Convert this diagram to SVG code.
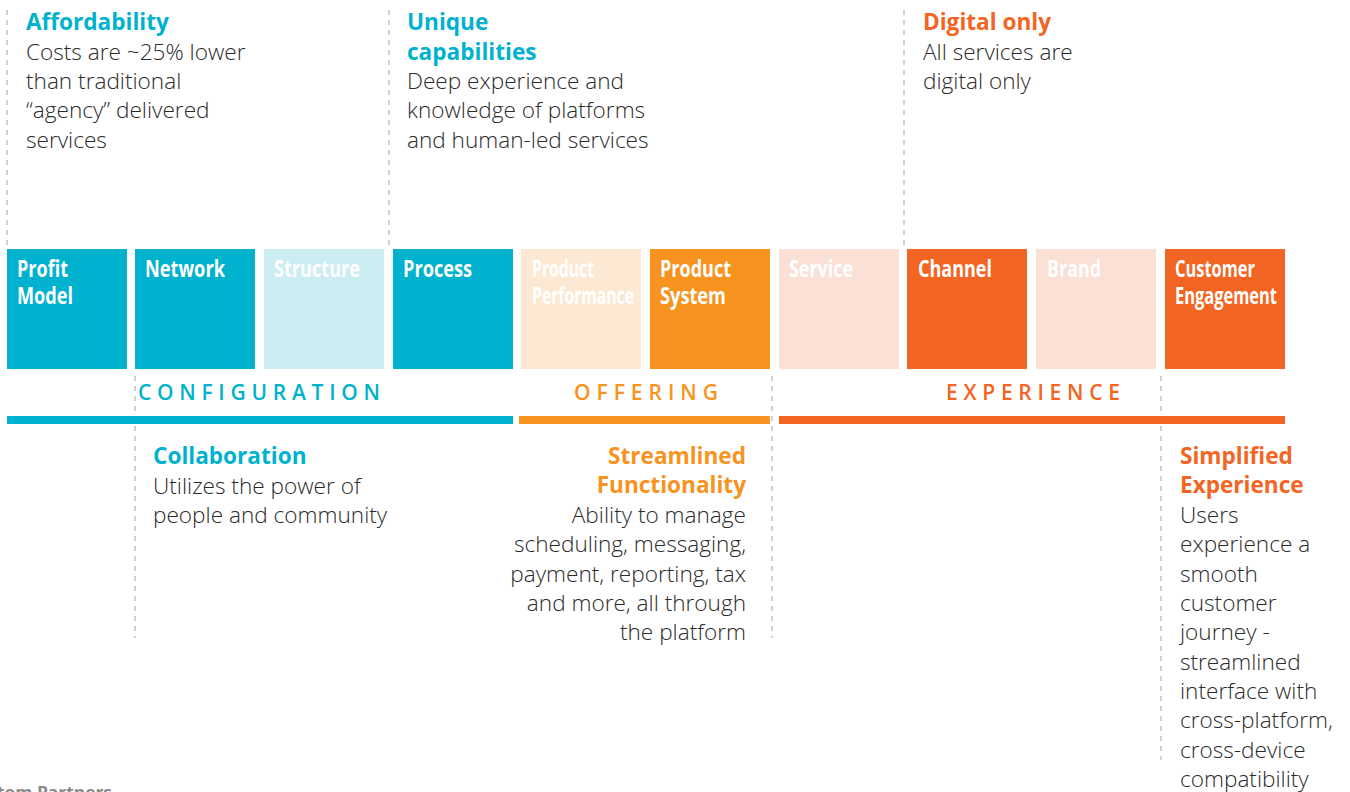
<svg xmlns="http://www.w3.org/2000/svg" width="1350" height="792" viewBox="0 0 1350 792">
<style>
.bg{fill:#ffffff}
.dash{stroke:#b3b3b3;stroke-width:1.2;stroke-dasharray:5 5;fill:none}
.lbl{font-family:"Open Sans","Liberation Sans",sans-serif;font-weight:700;font-size:23px;fill:#ffffff}
.h{font-family:"Open Sans","Liberation Sans",sans-serif;font-weight:700;font-size:22.6px}
.b{font-family:"Open Sans","Liberation Sans",sans-serif;font-weight:300;font-size:22.6px;fill:#2b2b2b}
.sec{font-family:"Open Sans","Liberation Sans",sans-serif;font-weight:600;font-size:21px}
.teal{fill:#00B2CD}
.lteal{fill:#CCEEF2}
.orange{fill:#F7931E}
.lorange{fill:#FDE9D3}
.red{fill:#F26522}
.lred{fill:#FBE0D5}
.src{font-family:"Open Sans","Liberation Sans",sans-serif;font-weight:700;font-size:16px;fill:#8a8a8a}
</style>
<rect class="bg" x="0" y="0" width="1350" height="792"/>

<g id="connectors">
  <line class="dash" x1="7" y1="10" x2="7" y2="247"/>
  <line class="dash" x1="389" y1="10" x2="389" y2="247"/>
  <line class="dash" x1="904" y1="10" x2="904" y2="247"/>
  <line class="dash" x1="135" y1="376" x2="135" y2="638"/>
  <line class="dash" x1="772" y1="376" x2="772" y2="638"/>
  <line class="dash" x1="1161" y1="376" x2="1161" y2="760"/>
</g>

<g id="box-profit-model">
  <rect class="teal" x="7" y="249" width="120" height="120"/>
  <text class="lbl" x="17" y="277" textLength="51" lengthAdjust="spacingAndGlyphs">Profit</text>
  <text class="lbl" x="17" y="304" textLength="56" lengthAdjust="spacingAndGlyphs">Model</text>
</g>
<g id="box-network">
  <rect class="teal" x="135" y="249" width="120" height="120"/>
  <text class="lbl" x="145" y="277" textLength="80" lengthAdjust="spacingAndGlyphs">Network</text>
</g>
<g id="box-structure">
  <rect class="lteal" x="264" y="249" width="120" height="120"/>
  <text class="lbl" x="274" y="277" textLength="86" lengthAdjust="spacingAndGlyphs">Structure</text>
</g>
<g id="box-process">
  <rect class="teal" x="393" y="249" width="120" height="120"/>
  <text class="lbl" x="403" y="277" textLength="69" lengthAdjust="spacingAndGlyphs">Process</text>
</g>
<g id="box-product-performance">
  <rect class="lorange" x="521" y="249" width="120" height="120"/>
  <text class="lbl" x="532" y="277" textLength="62" lengthAdjust="spacingAndGlyphs">Product</text>
  <text class="lbl" x="532" y="304" textLength="102" lengthAdjust="spacingAndGlyphs">Performance</text>
</g>
<g id="box-product-system">
  <rect class="orange" x="650" y="249" width="120" height="120"/>
  <text class="lbl" x="660" y="277" textLength="71" lengthAdjust="spacingAndGlyphs">Product</text>
  <text class="lbl" x="660" y="304" textLength="66" lengthAdjust="spacingAndGlyphs">System</text>
</g>
<g id="box-service">
  <rect class="lred" x="779" y="249" width="120" height="120"/>
  <text class="lbl" x="789" y="277" textLength="64" lengthAdjust="spacingAndGlyphs">Service</text>
</g>
<g id="box-channel">
  <rect class="red" x="907" y="249" width="120" height="120"/>
  <text class="lbl" x="918" y="277" textLength="74" lengthAdjust="spacingAndGlyphs">Channel</text>
</g>
<g id="box-brand">
  <rect class="lred" x="1036" y="249" width="120" height="120"/>
  <text class="lbl" x="1047" y="277" textLength="54" lengthAdjust="spacingAndGlyphs">Brand</text>
</g>
<g id="box-customer-engagement">
  <rect class="red" x="1165" y="249" width="120" height="120"/>
  <text class="lbl" x="1175" y="277" textLength="80" lengthAdjust="spacingAndGlyphs">Customer</text>
  <text class="lbl" x="1175" y="304" textLength="102" lengthAdjust="spacingAndGlyphs">Engagement</text>
</g>

<g id="section-configuration">
  <text class="sec teal" x="138" y="400" textLength="242" lengthAdjust="spacing">CONFIGURATION</text>
  <rect class="teal" x="7" y="416" width="506" height="8"/>
</g>
<g id="section-offering">
  <text class="sec orange" x="574" y="400" textLength="144" lengthAdjust="spacing">OFFERING</text>
  <rect class="orange" x="519" y="416" width="251" height="8"/>
</g>
<g id="section-experience">
  <text class="sec red" x="946" y="400" textLength="174" lengthAdjust="spacing">EXPERIENCE</text>
  <rect class="red" x="779" y="416" width="506" height="8"/>
</g>

<g id="note-affordability">
  <text class="h teal" x="26" y="30">Affordability</text>
  <text class="b" x="26" y="60">Costs are ~25% lower</text>
  <text class="b" x="26" y="89">than traditional</text>
  <text class="b" x="26" y="118">“agency” delivered</text>
  <text class="b" x="26" y="148">services</text>
</g>
<g id="note-unique">
  <text class="h teal" x="407" y="30">Unique</text>
  <text class="h teal" x="407" y="60">capabilities</text>
  <text class="b" x="407" y="89">Deep experience and</text>
  <text class="b" x="407" y="118">knowledge of platforms</text>
  <text class="b" x="407" y="148">and human-led services</text>
</g>
<g id="note-digital">
  <text class="h red" x="923" y="30">Digital only</text>
  <text class="b" x="923" y="60">All services are</text>
  <text class="b" x="923" y="89">digital only</text>
</g>
<g id="note-collaboration">
  <text class="h teal" x="153" y="464">Collaboration</text>
  <text class="b" x="153" y="494">Utilizes the power of</text>
  <text class="b" x="153" y="523">people and community</text>
</g>
<g id="note-streamlined" text-anchor="end">
  <text class="h orange" x="746" y="464">Streamlined</text>
  <text class="h orange" x="746" y="493">Functionality</text>
  <text class="b" x="746" y="523">Ability to manage</text>
  <text class="b" x="746" y="552">scheduling, messaging,</text>
  <text class="b" x="746" y="582">payment, reporting, tax</text>
  <text class="b" x="746" y="611">and more, all through</text>
  <text class="b" x="746" y="640">the platform</text>
</g>
<g id="note-simplified">
  <text class="h red" x="1180" y="464">Simplified</text>
  <text class="h red" x="1180" y="493">Experience</text>
  <text class="b" x="1180" y="523">Users</text>
  <text class="b" x="1180" y="552">experience a</text>
  <text class="b" x="1180" y="582">smooth</text>
  <text class="b" x="1180" y="611">customer</text>
  <text class="b" x="1180" y="640">journey -</text>
  <text class="b" x="1180" y="670">streamlined</text>
  <text class="b" x="1180" y="699">interface with</text>
  <text class="b" x="1180" y="728">cross-platform,</text>
  <text class="b" x="1180" y="758">cross-device</text>
  <text class="b" x="1180" y="787">compatibility</text>
</g>

<g id="source">
  <text class="src" x="-3" y="798" textLength="115" lengthAdjust="spacingAndGlyphs">tom Partners</text>
</g>
</svg>
